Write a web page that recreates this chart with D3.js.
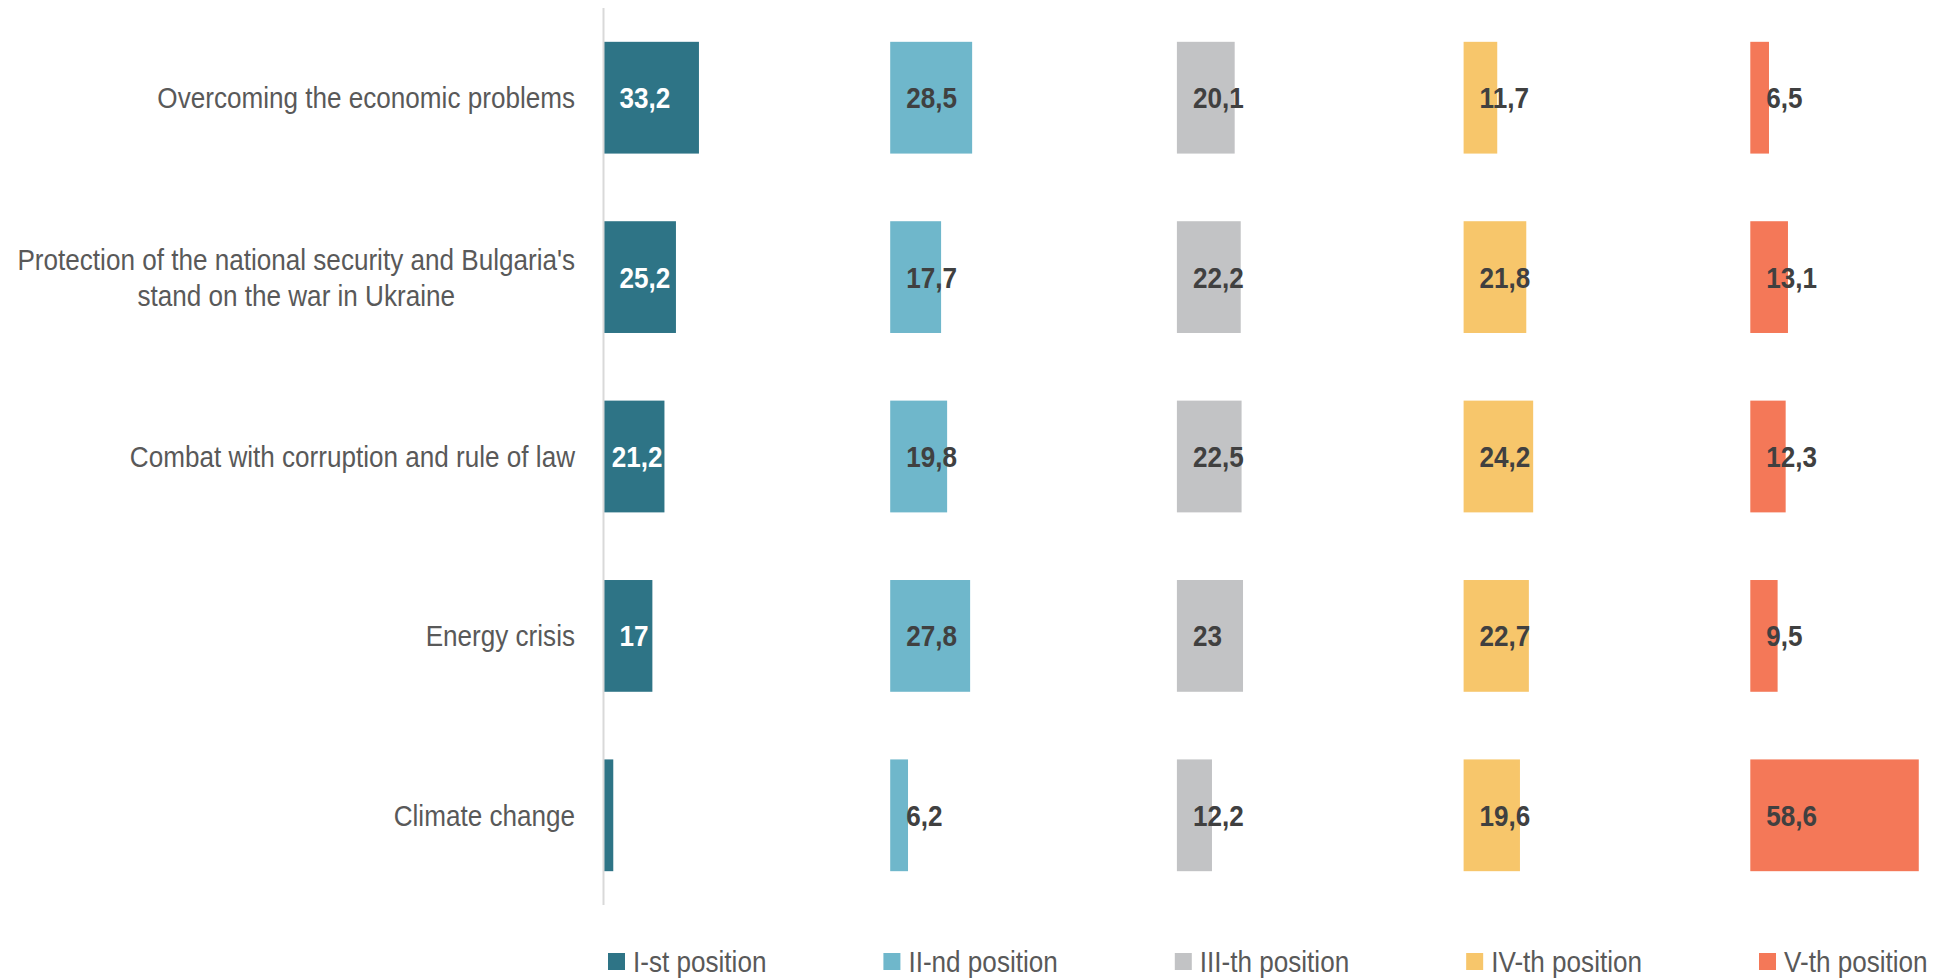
<!DOCTYPE html>
<html>
<head>
<meta charset="utf-8">
<script src="https://cdn.jsdelivr.net/npm/d3@7"></script>
<style>
  html, body { margin: 0; padding: 0; background: #ffffff; }
  svg { display: block; }
  text { font-family: "Liberation Sans", Arial, sans-serif; }
</style>
</head>
<body>
<svg id="chart" width="1947" height="980"></svg>
<script>
// ---- data ----
const categories = [
  "Overcoming the economic problems",
  "Protection of the national security and Bulgaria's stand on the war in Ukraine",
  "Combat with corruption and rule of law",
  "Energy crisis",
  "Climate change"
];
const categoryLines = [
  ["Overcoming the economic problems"],
  ["Protection of the national security and Bulgaria's", "stand on the war in Ukraine"],
  ["Combat with corruption and rule of law"],
  ["Energy crisis"],
  ["Climate change"]
];
const seriesNames = ["I-st position", "II-nd position", "III-th position", "IV-th position", "V-th position"];
const firstPos  = [33.2, 25.2, 21.2, 17, 3.4];
const secondPos = [28.5, 17.7, 19.8, 27.8, 6.2];
const thirdPos  = [20.1, 22.2, 22.5, 23, 12.2];
const fourthPos = [11.7, 21.8, 24.2, 22.7, 19.6];
const fifthPos  = [6.5, 13.1, 12.3, 9.5, 58.6];
const seriesValues = [firstPos, secondPos, thirdPos, fourthPos, fifthPos];
const colors = ["#2E7486", "#6FB7CB", "#C2C3C5", "#F7C66B", "#F47858"];
const labelColors = ["#ffffff", "#404040", "#404040", "#404040", "#404040"];

// ---- layout ----
const svg = d3.select("#chart");
const axisX = 603.5;
const panelStep = 286.7;
const SX = 0.9; // horizontal condensation of the font
const labelOffset = 16;

const panel = d3.scaleBand().domain(seriesNames).range([axisX, axisX + panelStep * seriesNames.length]).padding(0);
const x = d3.scaleLinear().domain([0, 100]).range([0, 287.5]);
const y = d3.scaleBand().domain(categories).range([8, 905]).paddingInner(0.377).paddingOuter(0.1885);

const fmt = v => String(v).replace(".", ",");

// bars
seriesNames.forEach((s, si) => {
  const g = svg.append("g");
  g.selectAll("rect").data(categories).join("rect")
    .attr("x", panel(s))
    .attr("y", c => y(c))
    .attr("width", (c, i) => x(seriesValues[si][i]))
    .attr("height", y.bandwidth())
    .attr("fill", colors[si]);
});

// axis line
svg.append("line")
  .attr("x1", axisX).attr("x2", axisX)
  .attr("y1", y.range()[0]).attr("y2", y.range()[1])
  .attr("stroke", "#d9d9d9").attr("stroke-width", 2);

// value labels
seriesNames.forEach((s, si) => {
  categories.forEach((c, i) => {
    const v = seriesValues[si][i];
    const bw = x(v);
    const g = svg.append("g");
    const t = g.append("text")
      .attr("x", 0).attr("dy", "0.36em")
      .attr("font-size", 29).attr("font-weight", "bold")
      .attr("fill", labelColors[si])
      .text(fmt(v));
    let off = labelOffset;
    if (labelColors[si] === "#ffffff") {
      // white labels must stay inside their bar; drop them when the bar is too narrow
      const tw = t.node().getComputedTextLength() * SX;
      off = Math.min(labelOffset, bw - tw - 2);
      if (off < 0) { g.remove(); return; }
    }
    g.attr("transform", `translate(${panel(s) + off},${y(c) + y.bandwidth() / 2}) scale(${SX},1)`);
  });
});

// category labels
const labelRight = 575;
categories.forEach((c, i) => {
  const lines = categoryLines[i];
  const g = svg.append("g")
    .attr("transform", `translate(${labelRight},${y(c) + y.bandwidth() / 2}) scale(${SX},1)`);
  const ts = lines.map((ln, li) => g.append("text")
    .attr("font-size", 29).attr("fill", "#595959")
    .attr("text-anchor", "middle")
    .attr("y", (li - (lines.length - 1) / 2) * 36)
    .attr("dy", "0.36em")
    .text(ln));
  const maxW = d3.max(ts, t => t.node().getComputedTextLength());
  ts.forEach(t => t.attr("x", -maxW / 2));
});

// legend
let lx = 608;
const ly = 961.5;
seriesNames.forEach((s, si) => {
  svg.append("rect").attr("x", lx).attr("y", ly - 8.5).attr("width", 17).attr("height", 17).attr("fill", colors[si]);
  const g = svg.append("g").attr("transform", `translate(${lx + 25},${ly}) scale(${SX},1)`);
  const t = g.append("text").attr("font-size", 29).attr("fill", "#595959").attr("dy", "0.36em").text(s);
  const w = t.node().getComputedTextLength() * SX;
  lx += 25 + w + 117;
});
</script>
</body>
</html>
